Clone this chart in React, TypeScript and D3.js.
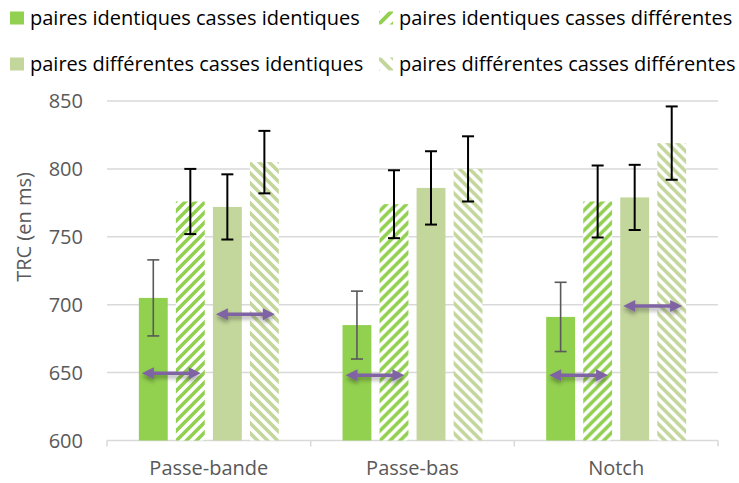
import React from "react";
import * as d3 from "d3";

const categories = ["Passe-bande", "Passe-bas", "Notch"];
const seriesNames = [
  "paires identiques casses identiques",
  "paires identiques casses différentes",
  "paires différentes casses identiques",
  "paires différentes casses différentes",
];
const valuesIdId = [705, 685, 691];
const valuesIdDiff = [776, 774, 776];
const valuesDiffId = [772, 786, 779];
const valuesDiffDiff = [805, 800, 819];
const errIdId = [28, 25, 25.5];
const errIdDiff = [24, 25, 26.5];
const errDiffId = [24, 27, 24];
const errDiffDiff = [23, 24, 27];
const yTicks = [600, 650, 700, 750, 800, 850];
// arrows: category index, first bar index (spans to next bar), value
const arrowCats = [0, 0, 1, 2, 2];
const arrowFrom = [0, 2, 0, 0, 2];
const arrowValues = [649.5, 693, 648, 648, 699];

const seriesValues = [valuesIdId, valuesIdDiff, valuesDiffId, valuesDiffDiff];
const seriesErrors = [errIdId, errIdDiff, errDiffId, errDiffDiff];

const GREEN = "#92D050";
const LIGHT = "#C3D69B";
const PURPLE = "#8064A2";
const FONT = "'Open Sans', sans-serif";
const FS = 20;

const fills = [GREEN, "url(#hatchUp)", LIGHT, "url(#hatchDown)"];
const legendFills = [GREEN, "url(#hatchUpL)", LIGHT, "url(#hatchDownL)"];

export default function App() {
  const W = 739;
  const H = 483;
  const x0 = d3.scaleBand<string>().domain(categories).range([107, 718]).paddingInner(0).paddingOuter(0);
  const x1 = d3
    .scaleBand<number>()
    .domain(d3.range(4))
    .range([0, x0.bandwidth()])
    .paddingInner(0.22)
    .paddingOuter(0.86);
  const y = d3.scaleLinear().domain([600, 850]).range([440.5, 101]);
  const bw = x1.bandwidth();

  const boundaries = [...categories.map((c) => x0(c) as number), 718];

  const arrowPath = (xa: number, xb: number, yy: number) => {
    const hl = 12, hh = 6, st = 1.8;
    return `M${xa},${yy} L${xa + hl},${yy - hh} L${xa + hl},${yy - st} L${xb - hl},${yy - st} L${xb - hl},${yy - hh} L${xb},${yy} L${xb - hl},${yy + hh} L${xb - hl},${yy + st} L${xa + hl},${yy + st} L${xa + hl},${yy + hh} Z`;
  };

  const legendCols = [10, 379];
  const legendRows = [24.5, 70.5];

  return (
    <svg
      width={W}
      height={H}
      style={{ position: "absolute", left: 0, top: 0, background: "#fff" }}
      fontFamily={FONT}
    >
      <defs>
        <pattern id="hatchUp" patternUnits="userSpaceOnUse" width={10} height={10}>
          <rect width={10} height={10} fill="#fff" />
          <path d="M-5,5 L5,-5 M0,10 L10,0 M5,15 L15,5" stroke={GREEN} strokeWidth={3.6} />
        </pattern>
        <pattern id="hatchDown" patternUnits="userSpaceOnUse" width={10} height={10}>
          <rect width={10} height={10} fill="#fff" />
          <path d="M-5,5 L5,15 M0,0 L10,10 M5,-5 L15,5" stroke={LIGHT} strokeWidth={3.6} />
        </pattern>
        <pattern id="hatchUpL" patternUnits="userSpaceOnUse" width={14} height={14} x={378} y={11}>
          <rect width={14} height={14} fill="#fff" />
          <path d="M-7,7 L7,-7 M0,14 L14,0 M7,21 L21,7" stroke={GREEN} strokeWidth={4} />
        </pattern>
        <pattern id="hatchDownL" patternUnits="userSpaceOnUse" width={14} height={14} x={378} y={57}>
          <rect width={14} height={14} fill="#fff" />
          <path d="M-7,7 L7,21 M0,0 L14,14 M7,-7 L21,7" stroke={LIGHT} strokeWidth={4} />
        </pattern>
        <filter id="shadow" x="-20%" y="-100%" width="140%" height="300%">
          <feDropShadow dx={0} dy={3} stdDeviation={2} floodColor="#000" floodOpacity={0.35} />
        </filter>
      </defs>

      {/* gridlines */}
      {yTicks.map((t) => (
        <line key={t} x1={107} x2={718} y1={y(t)} y2={y(t)} stroke="#D9D9D9" strokeWidth={1.5} />
      ))}
      {boundaries.map((b, i) => (
        <line key={i} x1={b} x2={b} y1={y(600)} y2={y(600) + 6} stroke="#D9D9D9" strokeWidth={1.5} />
      ))}

      {/* y tick labels */}
      {yTicks.map((t) => (
        <text key={t} x={83} y={y(t)} dy="0.35em" textAnchor="end" fontSize={FS} fill="#595959">
          {t}
        </text>
      ))}

      {/* y title */}
      <text
        transform={`translate(31,227) rotate(-90)`}
        textAnchor="middle"
        fontSize={FS}
        fill="#595959"
      >
        TRC (en ms)
      </text>

      {/* bars */}
      {categories.map((c, ci) => (
        <g key={c} transform={`translate(${x0(c)},0)`}>
          {seriesValues.map((vals, si) => (
            <rect
              key={si}
              x={x1(si)}
              y={y(vals[ci])}
              width={bw}
              height={y(600) - y(vals[ci])}
              fill={fills[si]}
            />
          ))}
        </g>
      ))}

      {/* error bars */}
      {categories.map((c, ci) => (
        <g key={c} transform={`translate(${x0(c)},0)`}>
          {seriesValues.map((vals, si) => {
            const cx = (x1(si) as number) + bw / 2;
            const top = y(vals[ci] + seriesErrors[si][ci]);
            const bot = y(vals[ci] - seriesErrors[si][ci]);
            const col = si === 0 ? "#595959" : "#000";
            const sw = si === 0 ? 1.6 : 2;
            return (
              <g key={si} stroke={col} strokeWidth={sw}>
                <line x1={cx} x2={cx} y1={top} y2={bot} />
                <line x1={cx - 6} x2={cx + 6} y1={top} y2={top} />
                <line x1={cx - 6} x2={cx + 6} y1={bot} y2={bot} />
              </g>
            );
          })}
        </g>
      ))}

      {/* arrows */}
      {arrowValues.map((v, i) => {
        const base = x0(categories[arrowCats[i]]) as number;
        const xa = base + (x1(arrowFrom[i]) as number) + 3;
        const xb = base + (x1(arrowFrom[i] + 1) as number) + bw - 4;
        return <path key={i} d={arrowPath(xa, xb, y(v))} fill={PURPLE} filter="url(#shadow)" />;
      })}

      {/* x labels */}
      {categories.map((c) => (
        <text
          key={c}
          x={(x0(c) as number) + x0.bandwidth() / 2}
          y={475}
          textAnchor="middle"
          fontSize={FS}
          fill="#595959"
        >
          {c}
        </text>
      ))}

      {/* legend */}
      {seriesNames.map((n, i) => {
        const col = legendCols[i % 2];
        const row = legendRows[Math.floor(i / 2)];
        return (
          <g key={n}>
            <rect x={col} y={row - 13} width={14} height={13} fill={legendFills[i]} />
            <text x={col + 20} y={row} fontSize={FS} fill="#000">
              {n}
            </text>
          </g>
        );
      })}
    </svg>
  );
}
